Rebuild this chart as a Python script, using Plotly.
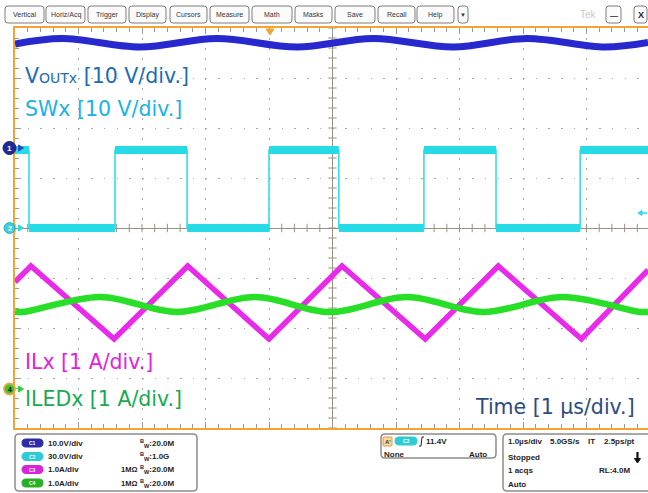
import numpy as np
import plotly.graph_objects as go

# ---------------- values ----------------
# time in µs, measured from the centre of the screen (1 µs/div, 10 div)
vout_t = [-5.0, -4.26, -3.03, -1.82, -0.56, 0.64, 1.90, 3.06, 4.29, 4.97]
vout_v = [20.8, 21.9, 20.2, 21.9, 20.2, 21.9, 20.2, 21.9, 20.2, 21.1]      # V

sw_edge_t = [-5.0, -4.78, -3.425, -2.29, -1.0, 0.10, 1.44, 2.575, 3.90, 4.97]
sw_level_v = [46.8, 0.0, 46.8, 0.0, 46.8, 0.0, 46.8, 0.0, 46.8]            # V

il_t = [-5.0, -4.75, -3.44, -2.28, -1.0, 0.15, 1.46, 2.61, 3.92, 4.97]
il_a = [2.14, 2.46, 1.00, 2.46, 1.00, 2.46, 1.00, 2.46, 1.00, 2.38]        # A

iled_t = [-5.0, -4.87, -3.66, -2.45, -1.22, -0.04, 1.17, 2.37, 3.63, 4.84, 4.97]
iled_a = [1.545, 1.54, 1.84, 1.54, 1.84, 1.54, 1.84, 1.54, 1.84, 1.54, 1.545]  # A

# scope channel settings
ch_names = ["C1", "C2", "C3", "C4"]
ch_units_per_div = [10.0, 30.0, 1.0, 1.0]
ch_ground_div = [1.6, 0.0, -3.22, -3.22]
ch_scale_text = ["10.0V/div", "30.0V/div", "1.0A/div", "1.0A/div"]
ch_term_text = ["", "", "1MΩ", "1MΩ"]
ch_bw_text = ["20.0M", "1.0G", "20.0M", "20.0M"]

menu_items = ["Vertical", "Horiz/Acq", "Trigger", "Display", "Cursors", "Measure",
              "Math", "Masks", "Save", "Recall", "Help", "▼"]
trigger_level_text = "11.4V"
timebase_text = ["1.0µs/div", "5.0GS/s", "IT", "2.5ps/pt"]
acq_text = ["Stopped", "1 acqs", "RL:4.0M", "Auto"]

# ---------------- geometry / style ----------------
W, H = 648, 493
L, T, B = 15, 28, 65
PW, PH = W - L, H - T - B
DIV_PX, DIV_PY = 63.5, 50.0
x_range = [-5.0, -5.0 + PW / DIV_PX]
y_range = [-4.0, 4.0]

C_VOUT, C_SW, C_IL, C_ILED = "#2828cf", "#27dbe6", "#ea2aea", "#27df27"
ORANGE = "#f3a432"
GRID = "#a9a9a9"
FONT = "Liberation Sans"
LABEL_FONT = "DejaVu Sans"


def to_div(vals, ch):
    return [None if v is None else v / ch_units_per_div[ch] + ch_ground_div[ch] for v in vals]


def xp(px):
    return (px - L) / PW


def yp(py):
    return (H - B - py) / PH


def div_to_py(d):
    return T + (y_range[1] - d) * DIV_PY


def rrect(x0, y0, x1, y1, r, line="#8a8a8a", fill="white", lw=1.0):
    P = lambda a, b: f"{xp(a):.5f},{yp(b):.5f}"
    path = (f"M{P(x0 + r, y0)} L{P(x1 - r, y0)} Q{P(x1, y0)} {P(x1, y0 + r)} "
            f"L{P(x1, y1 - r)} Q{P(x1, y1)} {P(x1 - r, y1)} L{P(x0 + r, y1)} "
            f"Q{P(x0, y1)} {P(x0, y1 - r)} L{P(x0, y0 + r)} Q{P(x0, y0)} {P(x0 + r, y0)} Z")
    return dict(type="path", xref="paper", yref="paper", path=path,
                line=dict(color=line, width=lw), fillcolor=fill, layer="above")


def poly(pts, color, fill=None, lw=1.0):
    P = lambda a, b: f"{xp(a):.5f},{yp(b):.5f}"
    path = "M" + " L".join(P(a, b) for a, b in pts) + (" Z" if fill else "")
    return dict(type="path", xref="paper", yref="paper", path=path,
                line=dict(color=color, width=lw), fillcolor=fill if fill else "rgba(0,0,0,0)",
                layer="above")


def circle(cx, cy, r, fill, line, lw=1.0):
    return dict(type="circle", xref="paper", yref="paper",
                x0=xp(cx - r), x1=xp(cx + r), y0=yp(cy + r), y1=yp(cy - r),
                fillcolor=fill, line=dict(color=line, width=lw), layer="above")


def txt(px, py, s, size=8, color="#1e1e1e", anchor="left", bold=True, family=FONT):
    return dict(x=xp(px), y=yp(py), xref="paper", yref="paper", text=s, showarrow=False,
                xanchor=anchor, yanchor="middle", borderpad=0,
                font=dict(family=family, size=size, color=color,
                          weight="bold" if bold else "normal"))


fig = go.Figure()

# graticule ticks on the centre cross
cx = np.arange(-5.0, x_range[1], 0.2)
cy = np.arange(-4.0, 4.01, 0.2)
fig.add_trace(go.Scatter(x=cx, y=np.zeros_like(cx), mode="markers", hoverinfo="skip",
                         marker=dict(symbol="line-ns", size=6, line=dict(color="#9c9080", width=1))))
fig.add_trace(go.Scatter(x=np.zeros_like(cy), y=cy, mode="markers", hoverinfo="skip",
                         marker=dict(symbol="line-ew", size=6, line=dict(color="#9c9080", width=1))))

# VOUT (C1)
fig.add_trace(go.Scatter(x=vout_t, y=to_div(vout_v, 0), mode="lines",
                         line=dict(color=C_VOUT, width=7, shape="spline", smoothing=1.0)))

# SW (C2): thin edges + thick (noisy) flat levels
sw_x, sw_y, swf_x, swf_y = [], [], [], []
for i, lvl in enumerate(sw_level_v):
    sw_x += [sw_edge_t[i], sw_edge_t[i + 1]]
    sw_y += [lvl, lvl]
    swf_x += [sw_edge_t[i], sw_edge_t[i + 1], None]
    swf_y += [lvl, lvl, None]
fig.add_trace(go.Scatter(x=sw_x, y=to_div(sw_y, 1), mode="lines",
                         line=dict(color=C_SW, width=1.5)))
fig.add_trace(go.Scatter(x=swf_x, y=to_div(swf_y, 1), mode="lines",
                         line=dict(color=C_SW, width=8), connectgaps=False))

# IL (C3)
fig.add_trace(go.Scatter(x=il_t, y=to_div(il_a, 2), mode="lines",
                         line=dict(color=C_IL, width=5.5)))
# ILED (C4)
fig.add_trace(go.Scatter(x=iled_t, y=to_div(iled_a, 3), mode="lines",
                         line=dict(color=C_ILED, width=6.5, shape="spline", smoothing=1.0)))

shapes, ann = [], []

# ground markers on the left edge (channels 1, 2, 4)
gm = [(0, "1", 6.5, "#1f2a96", "#16206e", 1, "white", "#2b45c8"),
      (1, "2", 5.5, "#3fcfdc", "#2ab4c0", 1, "white", C_SW),
      (3, "4", 5.5, "#33c83c", ORANGE, 1.8, "#111", "#2fcf3a")]
for ch, lab, r, fill, line, lw, tcol, acol in gm:
    py = div_to_py(ch_ground_div[ch])
    shapes.append(poly([(23.5, py), (18.5, py - 3), (18.5, py + 3)], acol, fill=acol))
    shapes.append(circle(9.5, py, r, fill, line, lw))
    ann.append(txt(9.5, py, lab, size=7 if ch else 8, color=tcol, anchor="center"))

# ----- top menu bar -----
menu_x = [(5, 44), (46, 85), (88, 126), (129, 166), (170, 207), (210, 249),
          (252, 292), (295, 332), (335, 375), (378, 415), (417, 454), (458, 468)]
for name, (a, b) in zip(menu_items, menu_x):
    shapes.append(rrect(a, 6, b, 23, 3, line="#7d7d7d", fill="#fbfbfb", lw=1))
    ann.append(txt((a + b) / 2, 14.5, name, size=7 if name != "▼" else 6, color="#333",
                   anchor="center", bold=False))
ann.append(txt(588, 14.5, "Tek", size=10, color="#c9c9c9", anchor="center", bold=False))
shapes.append(rrect(606, 6, 621, 23, 3, line="#7d7d7d", fill="#fbfbfb"))
shapes.append(rrect(634, 6, 647, 23, 3, line="#7d7d7d", fill="#fbfbfb"))
ann.append(txt(613.5, 15, "—", size=8, color="#222", anchor="center"))
ann.append(txt(640.5, 14.5, "X", size=9, color="#222", anchor="center"))

# trigger position marker and trigger level arrow
shapes.append(poly([(266, 29), (274, 29), (270, 35)], ORANGE, fill=ORANGE))
shapes.append(poly([(638, 213), (642, 210.5), (642, 215.5)], C_SW, fill=C_SW))
shapes.append(poly([(641, 213), (647, 213)], C_SW, lw=1.5))

# ----- status panel -----
shapes.append(rrect(15, 434, 197, 491, 4, line="#8c8c8c", lw=1.5))
row_y = [443, 456.5, 469.5, 483]
badge_col = ["#2a2fa8", "#2ccbd6", "#d625d6", "#26b026"]
for i in range(4):
    y = row_y[i]
    shapes.append(rrect(22, y - 4, 43, y + 4, 4, line=badge_col[i], fill=badge_col[i]))
    ann.append(txt(32.5, y, ch_names[i], size=5, color="white", anchor="center"))
    ann.append(txt(47, y, ch_scale_text[i]))
    if ch_term_text[i]:
        ann.append(txt(120, y, ch_term_text[i], size=7.5))
    ann.append(txt(139, y, "<sup>B</sup><sub>W</sub>:" + ch_bw_text[i]))

shapes.append(rrect(381, 434, 496, 458, 4, line="#8c8c8c", lw=1.5))
shapes.append(rrect(383, 437, 392, 446, 1, line="#e09a40", fill="#fbd9a3"))
ann.append(txt(387.5, 441.5, "A'", size=6, color="#333", anchor="center"))
shapes.append(rrect(395, 437, 417, 445, 4, line=badge_col[1], fill=badge_col[1]))
ann.append(txt(406, 441, "C2", size=5, color="white", anchor="center"))
shapes.append(poly([(419, 446), (421, 446), (422, 437), (424, 437)], "#222", lw=1))
ann.append(txt(425, 441, trigger_level_text))
ann.append(txt(383, 454, "None"))
ann.append(txt(488, 454, "Auto", anchor="right"))

shapes.append(rrect(503, 434, 660, 491, 4, line="#8c8c8c", lw=1.5))
ann.append(txt(507, 442, timebase_text[0]))
ann.append(txt(549, 442, timebase_text[1]))
ann.append(txt(587, 442, timebase_text[2]))
ann.append(txt(603, 442, timebase_text[3]))
ann.append(txt(507, 457, acq_text[0]))
ann.append(txt(507, 470, acq_text[1]))
ann.append(txt(598, 470, acq_text[2]))
ann.append(txt(507, 484, acq_text[3]))
shapes.append(poly([(637.5, 452), (637.5, 459)], "#111", lw=2.2))
shapes.append(poly([(634.5, 458.5), (640.5, 458.5), (637.5, 463)], "#111", fill="#111"))

# ----- channel labels -----
LS = 20.5
ann.append(txt(24, 76.5, 'V<span style="font-size:14px">OUTx</span> [10 V/div.]',
               size=LS, color="#1b6cb4", bold=False, family=LABEL_FONT))
ann.append(txt(24, 109, "SWx [10 V/div.]", size=LS, color="#1ab2e6", bold=False, family=LABEL_FONT))
ann.append(txt(24, 362, "ILx [1 A/div.]", size=LS, color="#e221de", bold=False, family=LABEL_FONT))
ann.append(txt(24, 398.5, "ILEDx [1 A/div.]", size=LS, color="#17aa50", bold=False, family=LABEL_FONT))
ann.append(txt(636, 407, "Time [1 µs/div.]", size=LS, color="#2b4c7e", bold=False,
               family=LABEL_FONT, anchor="right"))

fig.update_layout(
    width=W, height=H, autosize=False,
    margin=dict(l=L, r=0, t=T, b=B, pad=0),
    paper_bgcolor="white", plot_bgcolor="white",
    showlegend=False,
    shapes=shapes, annotations=ann,
    xaxis=dict(range=x_range, dtick=1, tick0=0, showgrid=True, gridcolor=GRID, gridwidth=1,
               griddash="1.5px,8.5px", zeroline=True, zerolinecolor="#9c9080", zerolinewidth=1,
               showline=True, linecolor=ORANGE, linewidth=2, mirror="allticks",
               ticks="inside", ticklen=6, tickcolor="#9a9a9a", tickwidth=1,
               minor=dict(dtick=0.2, ticks="inside", ticklen=4, tickcolor="#9a9a9a", showgrid=False),
               showticklabels=False, fixedrange=True, layer="below traces"),
    yaxis=dict(range=y_range, dtick=1, tick0=0, showgrid=True, gridcolor=GRID, gridwidth=1,
               griddash="1.5px,11.2px", zeroline=True, zerolinecolor="#9c9080", zerolinewidth=1,
               showline=True, linecolor=ORANGE, linewidth=2, mirror=False,
               ticks="inside", ticklen=6, tickcolor="#9a9a9a", tickwidth=1,
               minor=dict(dtick=0.2, ticks="inside", ticklen=4, tickcolor="#9a9a9a", showgrid=False),
               showticklabels=False, fixedrange=True, layer="below traces"),
)

fig.write_html("out.html", config={"staticPlot": True},
               post_script="document.body.style.margin='0';document.body.style.overflow='hidden';")
